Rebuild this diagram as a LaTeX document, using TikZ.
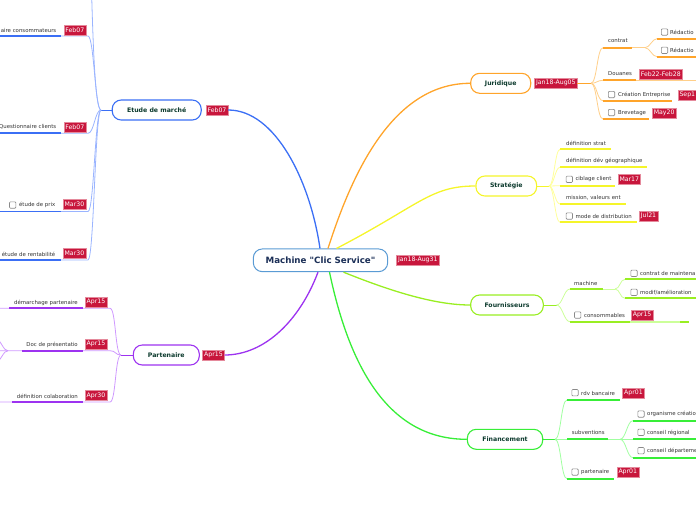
\documentclass[tikz,border=0pt]{standalone}
\usepackage{fontspec}
\setmainfont{DejaVu Sans}
\definecolor{blueM}{HTML}{3B6FF5}
\definecolor{blueL}{HTML}{9AB4FF}
\definecolor{purM}{HTML}{9D33F0}
\definecolor{purL}{HTML}{CF99FF}
\definecolor{oraM}{HTML}{FFA42A}
\definecolor{oraL}{HTML}{FFCF8A}
\definecolor{yelM}{HTML}{F5F52A}
\definecolor{yelL}{HTML}{FFFF99}
\definecolor{lgrM}{HTML}{99EE22}
\definecolor{lgrL}{HTML}{CCFF99}
\definecolor{grnM}{HTML}{38EE38}
\definecolor{grnL}{HTML}{A0FFA0}
\definecolor{tagred}{HTML}{C8163C}
\definecolor{tagedge}{HTML}{E58A9C}
\definecolor{titlecol}{HTML}{0D3B2E}
\definecolor{centercol}{HTML}{1B2F57}
\definecolor{centeredge}{HTML}{5A9BD4}
\definecolor{leafcol}{HTML}{333333}
\definecolor{boxgray}{HTML}{8A8A8A}
\tikzset{
  centerbox/.style={draw=centeredge, line width=1pt, rounded corners=9pt, fill=white,
    minimum width=134.4pt, minimum height=22.7pt, inner sep=0pt,
    font=\fontsize{8.7}{10}\selectfont\bfseries\addfontfeatures{Ligatures=TeXOff}, text=centercol},
  branch/.style={rounded corners=9pt, fill=white, line width=1.1pt, minimum height=20pt,
    inner sep=0pt, font=\fontsize{6.2}{7}\selectfont\bfseries, text=titlecol},
  tagbox/.style={fill=tagred, draw=tagedge, line width=0.4pt, text=white,
    font=\fontsize{6.2}{7}\selectfont, inner xsep=1.6pt, inner ysep=0pt, minimum height=10pt},
  leaf/.style={font=\fontsize{5.4}{6}\selectfont, text=leafcol, inner sep=0pt},
  cbox/.style={draw=boxgray, rounded corners=1pt, minimum size=6.4pt, inner sep=0pt,
    line width=0.6pt, fill=white},
  mainline/.style={line width=1.3pt},
  sub/.style={line width=0.8pt},
  uline/.style={line width=1.7pt},
}
\begin{document}
\begin{tikzpicture}[x=1pt,y=-1pt]
\useasboundingbox (0,0) rectangle (696,520);
\clip (0,0) rectangle (696,520);

% ---------- central node and main branches ----------
\node[centerbox] (c) at (320.5,260.3) {Machine "Clic Service"};
\node[tagbox, anchor=west] (ct) at ([xshift=8pt]c.east) {Jan18-Aug31};

\node[branch, draw=blueM, minimum width=89pt] (e) at (156.7,110) {Etude de marché};
\node[tagbox, anchor=west] (et) at ([xshift=4pt]e.east) {Feb07};
\node[branch, draw=purM, minimum width=66pt] (p) at (166.3,355) {Partenaire};
\node[tagbox, anchor=west] (pt) at ([xshift=2.5pt]p.east) {Apr15};
\node[branch, draw=oraM, minimum width=60pt] (j) at (500.7,83.3) {Juridique};
\node[tagbox, anchor=west] (jt) at ([xshift=3pt]j.east) {Jan18-Aug05};
\node[branch, draw=yelM, minimum width=60.7pt] (s) at (506.3,186) {Stratégie};
\node[branch, draw=lgrM, minimum width=72.6pt] (f) at (507,305) {Fournisseurs};
\node[branch, draw=grnM, minimum width=75.4pt] (fi) at (505,439.3) {Financement};

\draw[mainline, blueM] ([xshift=-0.5pt]c.north) .. controls (310,180) and (275,110) .. (et.east);
\draw[mainline, oraM] ([xshift=7.5pt]c.north) .. controls (350,180) and (390,83.3) .. (j.west);
\draw[mainline, yelM] ([xshift=16pt]c.north) .. controls (420,205) and (430,186) .. (s.west);
\draw[mainline, lgrM] ([xshift=23pt]c.south) .. controls (400,295) and (440,305) .. (f.west);
\draw[mainline, grnM] ([xshift=9pt]c.south) .. controls (350,370) and (390,439.3) .. (fi.west);
\draw[mainline, purM] ([xshift=-2.5pt]c.south) .. controls (300,320) and (265,355) .. (pt.east);

% ---------- Etude de marche ----------
\coordinate (je) at (101,110);
\draw[sub, blueM] (e.west) -- (je);
\coordinate (e0) at (91.5,-10);
\coordinate (e1) at (88,36);
\coordinate (e2) at (88,133.3);
\coordinate (e3) at (88,211.5);
\coordinate (e4) at (88,260);
\draw[sub, blueL] (je) .. controls (95,110) and (93,40) .. (e0);
\foreach \k/\yy in {e1/36, e2/133.3, e3/211.5, e4/260}{
  \draw[sub, blueL] (je) .. controls +(-6,0) and +(6,0) .. (\k) -- (61,\yy);
  \draw[uline, blueM] (0,\yy) -- (61,\yy);
}
\node[leaf, anchor=east] (e1t) at (56.5,30) {aire consommateurs};
\node[tagbox, anchor=east] (e1g) at (86,29.7) {Feb07};
\node[leaf, anchor=east] (e2t) at (56.5,127) {Questionnaire clients};
\node[tagbox, anchor=east] (e2g) at (86,126.7) {Feb07};
\node[cbox] (e3c) at (12.7,205) {};
\node[leaf, anchor=east] (e3t) at (55.5,205) {étude de prix};
\node[tagbox, anchor=east] (e3g) at (86,204.5) {Mar30};
\node[leaf, anchor=east] (e4t) at (55.5,254) {étude de rentabilité};
\node[tagbox, anchor=east] (e4g) at (86,253.5) {Mar30};

% ---------- Partenaire ----------
\coordinate (jp) at (121,355);
\draw[sub, purM] (p.west) -- (jp);
\coordinate (p1) at (110,308.3);
\coordinate (p2) at (110,350.7);
\coordinate (p3) at (110,402);
\foreach \k/\yy/\xs in {p1/308.3/9, p2/350.7/22, p3/402/12}{
  \draw[sub, purL] (jp) .. controls +(-6,0) and +(6,0) .. (\k) -- (0,\yy);
  \draw[uline, purM] (\xs,\yy) -- (83,\yy);
}
\coordinate (pf) at (8,350.7);
\coordinate (pfa) at (-6,336);
\coordinate (pfb) at (-6,365);
\draw[sub, purL] (pf) .. controls (3,350.7) and (2,341) .. (pfa);
\draw[sub, purL] (pf) .. controls (3,350.7) and (2,360) .. (pfb);
\node[leaf, anchor=east] (p1t) at (78,302.7) {démarchage partenaire};
\node[tagbox, anchor=east] (p1g) at (107,302) {Apr15};
\node[leaf, anchor=east] (p2t) at (78,345) {Doc de présentatio};
\node[tagbox, anchor=east] (p2g) at (107,344) {Apr15};
\node[leaf, anchor=east] (p3t) at (78,396) {définition colaboration};
\node[tagbox, anchor=east] (p3g) at (107,395.5) {Apr30};

% ---------- Juridique ----------
\coordinate (jj) at (591,83.3);
\draw[sub, oraM] (jt.east) -- (jj);
\coordinate (j1) at (603,47.7);
\coordinate (j2) at (603,80.3);
\coordinate (j3) at (603,100.7);
\coordinate (j4) at (603,119);
\foreach \k in {j1,j2,j3,j4}{
  \draw[sub, oraL] (jj) .. controls +(6,0) and +(-6,0) .. (\k);
}
\draw[uline, oraM] (j1) -- (632,47.7);
\draw[uline, oraM] (j2) -- (636,80.3);
\draw[uline, oraM] (j3) -- (672,100.7);
\draw[uline, oraM] (j4) -- (649,119);
\coordinate (jc) at (645,47.7);
\draw[sub, oraL] (632,47.7) -- (jc);
\draw[sub, oraL] (636,80.3) -- (700,80.3);
\coordinate (jc1) at (657,38.7);
\coordinate (jc2) at (657,56.7);
\draw[sub, oraL] (jc) .. controls +(5,0) and +(-5,0) .. (jc1);
\draw[sub, oraL] (jc) .. controls +(5,0) and +(-5,0) .. (jc2);
\draw[uline, oraM] (jc1) -- (700,38.7);
\draw[uline, oraM] (jc2) -- (700,56.7);
\node[leaf, anchor=west] (j1t) at (608,41) {contrat};
\node[cbox] (jc1c) at (664.5,32) {};
\node[leaf, anchor=west] (jc1t) at (670,32) {Rédactio};
\node[cbox] (jc2c) at (664.5,50.3) {};
\node[leaf, anchor=west] (jc2t) at (670,50.3) {Rédactio};
\node[leaf, anchor=west] (j2t) at (608,73.7) {Douanes};
\node[tagbox, anchor=west] (j2g) at (639,74) {Feb22-Feb28};
\node[cbox] (j3c) at (611.5,94.5) {};
\node[leaf, anchor=west] (j3t) at (618,95) {Création Entreprise};
\node[tagbox, anchor=west] (j3g) at (677.7,94.7) {Sep1};
\node[cbox] (j4c) at (611.5,112.5) {};
\node[leaf, anchor=west] (j4t) at (618,113) {Brevetage};
\node[tagbox, anchor=west] (j4g) at (652,112.7) {May20};

% ---------- Strategie ----------
\coordinate (js) at (549,186);
\draw[sub, yelM] (s.east) -- (js);
\coordinate (s1) at (560,149.3);
\coordinate (s2) at (560,167.3);
\coordinate (s3) at (560,185.7);
\coordinate (s4) at (560,204);
\coordinate (s5) at (560,222.3);
\foreach \k in {s1,s2,s3,s4,s5}{
  \draw[sub, yelL] (js) .. controls +(5,0) and +(-5,0) .. (\k);
}
\draw[uline, yelM] (s1) -- (610.7,149.3);
\draw[uline, yelM] (s2) -- (647,167.3);
\draw[uline, yelM] (s3) -- (615,185.7);
\draw[uline, yelM] (s4) -- (625.7,204);
\draw[uline, yelM] (s5) -- (636.7,222.3);
\node[leaf, anchor=west] (s1t) at (566,143) {définition strat};
\node[leaf, anchor=west] (s2t) at (566,161) {définition dév géographique};
\node[cbox] (s3c) at (569.3,179.3) {};
\node[leaf, anchor=west] (s3t) at (575.3,179) {ciblage client};
\node[tagbox, anchor=west] (s3g) at (617.7,179) {Mar17};
\node[leaf, anchor=west] (s4t) at (566,198) {mission, valeurs ent};
\node[cbox] (s5c) at (569.3,216) {};
\node[leaf, anchor=west] (s5t) at (575.3,216) {mode de distribution};
\node[tagbox, anchor=west] (s5g) at (639,215.8) {Jul21};

% ---------- Fournisseurs ----------
\coordinate (jf) at (556.5,305);
\draw[sub, lgrM] (f.east) -- (jf);
\coordinate (f1) at (570,289);
\coordinate (f2) at (570,321.7);
\draw[sub, lgrL] (jf) .. controls +(6,0) and +(-6,0) .. (f1);
\draw[sub, lgrL] (jf) .. controls +(6,0) and +(-6,0) .. (f2);
\draw[uline, lgrM] (f1) -- (603,289);
\coordinate (jm) at (615,289);
\draw[sub, lgrL] (603,289) -- (jm);
\coordinate (fm1) at (625,279.3);
\coordinate (fm2) at (625,298.3);
\draw[sub, lgrL] (jm) .. controls +(5,0) and +(-5,0) .. (fm1);
\draw[sub, lgrL] (jm) .. controls +(5,0) and +(-5,0) .. (fm2);
\draw[uline, lgrM] (fm1) -- (700,279.3);
\draw[uline, lgrM] (fm2) -- (700,298.3);
\draw[uline, lgrM] (f2) -- (630,321.7);
\draw[uline, lgrL] (630,321.7) -- (680,321.7);
\draw[uline, lgrM] (680,321.7) -- (688.7,321.7);
\node[leaf, anchor=west] (f1t) at (574,283.3) {machine};
\node[cbox] (fm1c) at (634,273.3) {};
\node[leaf, anchor=west] (fm1t) at (640,273.3) {contrat de maintena};
\node[cbox] (fm2c) at (634,292.3) {};
\node[leaf, anchor=west] (fm2t) at (640,292.3) {modif/amélioration};
\node[cbox] (f2c) at (577.7,315) {};
\node[leaf, anchor=west] (f2t) at (584,315) {consommables};
\node[tagbox, anchor=west] (f2g) at (631,315.3) {Apr15};

% ---------- Financement ----------
\coordinate (jfi) at (555,439.3);
\draw[sub, grnM] (fi.east) -- (jfi);
\coordinate (g1) at (567,400);
\coordinate (g2) at (567,439.3);
\coordinate (g3) at (567,478.7);
\foreach \k in {g1,g2,g3}{
  \draw[sub, grnL] (jfi) .. controls +(6,0) and +(-6,0) .. (\k);
}
\draw[uline, grnM] (g1) -- (620,400);
\draw[uline, grnM] (g2) -- (608,439.3);
\draw[uline, grnM] (g3) -- (614,478.7);
\coordinate (jsub) at (620,439.3);
\draw[sub, grnL] (608,439.3) -- (jsub);
\coordinate (gs1) at (633,420.7);
\coordinate (gs2) at (633,439.3);
\coordinate (gs3) at (633,457.7);
\foreach \k in {gs1,gs2,gs3}{
  \draw[sub, grnL] (jsub) .. controls +(6,0) and +(-6,0) .. (\k);
}
\draw[uline, grnM] (gs1) -- (700,420.7);
\draw[uline, grnM] (gs2) -- (700,439.3);
\draw[uline, grnM] (gs3) -- (700,457.7);
\node[cbox] (g1c) at (575,392.7) {};
\node[leaf, anchor=west] (g1t) at (581,393) {rdv bancaire};
\node[tagbox, anchor=west] (g1g) at (622.3,393) {Apr01};
\node[leaf, anchor=west] (g2t) at (571.7,432.7) {subventions};
\node[cbox] (gs1c) at (641,414) {};
\node[leaf, anchor=west] (gs1t) at (647,414) {organisme créatio};
\node[cbox] (gs2c) at (641,432.3) {};
\node[leaf, anchor=west] (gs2t) at (647,432.7) {conseil régional};
\node[cbox] (gs3c) at (641,450.7) {};
\node[leaf, anchor=west] (gs3t) at (647,450.7) {conseil départeme};
\node[cbox] (g3c) at (575,472) {};
\node[leaf, anchor=west] (g3t) at (581,472.3) {partenaire};
\node[tagbox, anchor=west] (g3g) at (616.7,472) {Apr01};
\end{tikzpicture}
\end{document}
